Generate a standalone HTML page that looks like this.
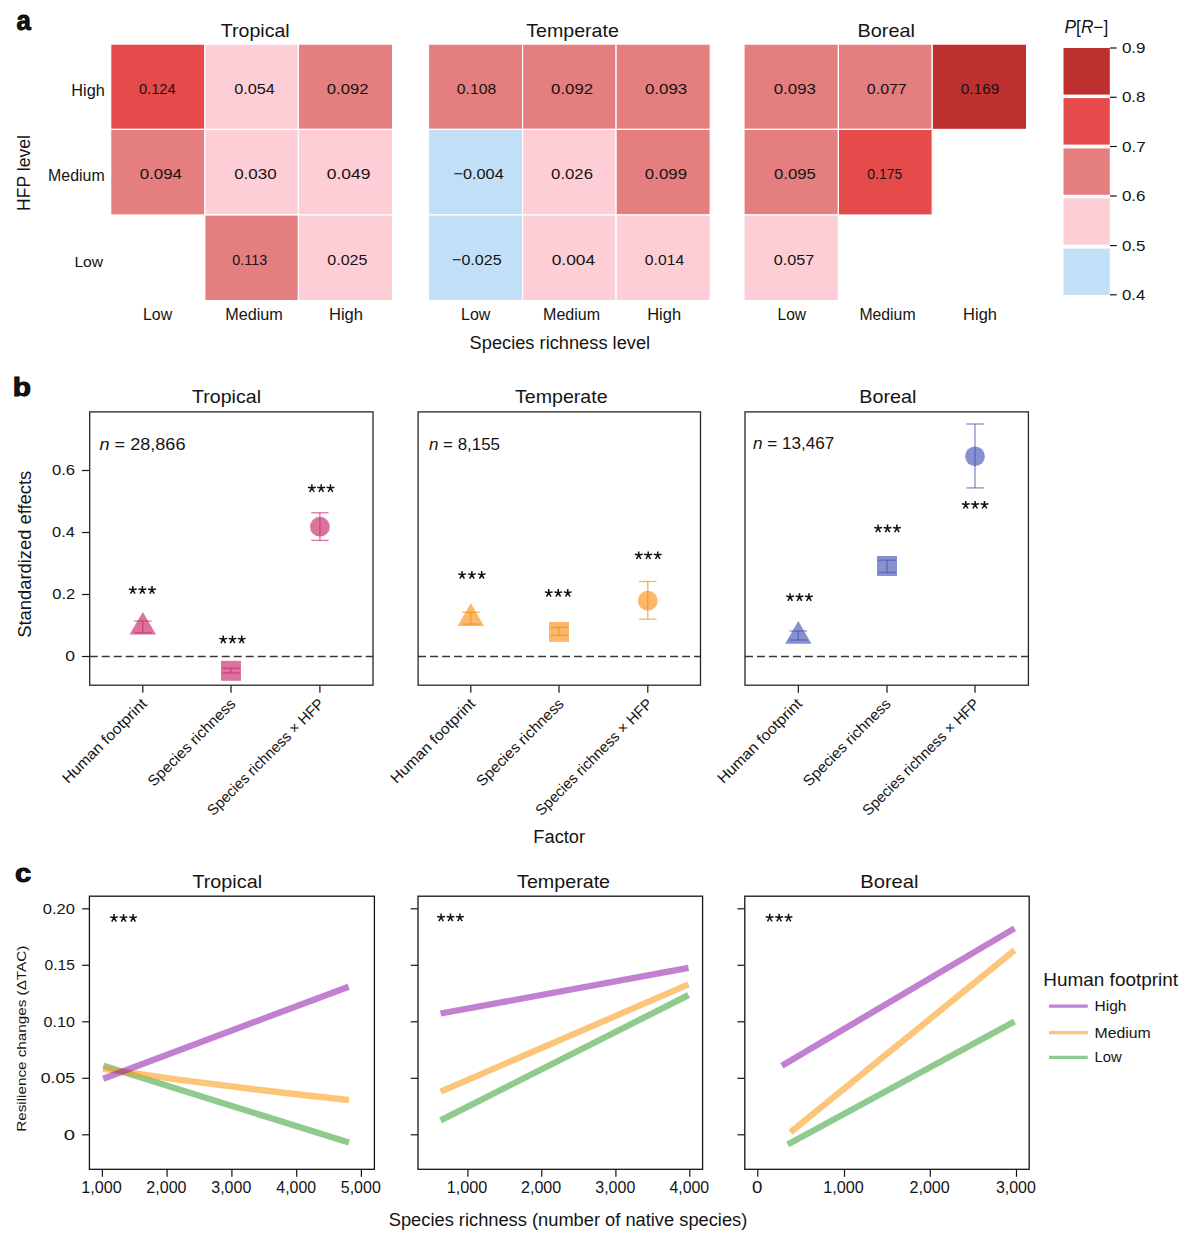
<!DOCTYPE html>
<html><head><meta charset="utf-8"><style>
html,body{margin:0;padding:0;background:#fff;width:1186px;height:1236px;overflow:hidden}
svg{display:block}
text{font-family:"Liberation Sans", sans-serif;fill:#141414}
</style></head><body>
<svg width="1186" height="1236" viewBox="0 0 1186 1236">
<text x="16.43" y="30.4" font-size="27" textLength="14.31" lengthAdjust="spacingAndGlyphs" font-weight="bold" fill="#000" stroke="#000" stroke-width="0.9">a</text>
<text x="220.86" y="36.9" font-size="18.2" textLength="68.85" lengthAdjust="spacingAndGlyphs">Tropical</text>
<rect x="110.7" y="44.1" width="94.17" height="85.3" fill="#E54B4B" stroke="#fff" stroke-width="1.2"/>
<rect x="204.87" y="44.1" width="93.57" height="85.3" fill="#FECED6" stroke="#fff" stroke-width="1.2"/>
<rect x="298.43" y="44.1" width="94.17" height="85.3" fill="#E57E7E" stroke="#fff" stroke-width="1.2"/>
<rect x="110.7" y="129.4" width="94.17" height="85.6" fill="#E57E7E" stroke="#fff" stroke-width="1.2"/>
<rect x="204.87" y="129.4" width="93.57" height="85.6" fill="#FECED6" stroke="#fff" stroke-width="1.2"/>
<rect x="298.43" y="129.4" width="94.17" height="85.6" fill="#FECED6" stroke="#fff" stroke-width="1.2"/>
<rect x="204.87" y="215" width="93.57" height="85.6" fill="#E57E7E" stroke="#fff" stroke-width="1.2"/>
<rect x="298.43" y="215" width="94.17" height="85.6" fill="#FECED6" stroke="#fff" stroke-width="1.2"/>
<text x="138.91" y="94" font-size="15.1" textLength="36.79" lengthAdjust="spacingAndGlyphs">0.124</text>
<text x="234.15" y="94" font-size="15.1" textLength="40.7" lengthAdjust="spacingAndGlyphs">0.054</text>
<text x="326.78" y="94" font-size="15.1" textLength="41.8" lengthAdjust="spacingAndGlyphs">0.092</text>
<text x="139.77" y="178.9" font-size="15.1" textLength="42.24" lengthAdjust="spacingAndGlyphs">0.094</text>
<text x="234.17" y="178.9" font-size="15.1" textLength="42.41" lengthAdjust="spacingAndGlyphs">0.030</text>
<text x="326.8" y="178.9" font-size="15.1" textLength="43.68" lengthAdjust="spacingAndGlyphs">0.049</text>
<text x="232.28" y="264.9" font-size="15.1" textLength="34.9" lengthAdjust="spacingAndGlyphs">0.113</text>
<text x="327.31" y="264.9" font-size="15.1" textLength="40.19" lengthAdjust="spacingAndGlyphs">0.025</text>
<text x="142.99" y="320.1" font-size="15.6" textLength="29.16" lengthAdjust="spacingAndGlyphs">Low</text>
<text x="225.16" y="320.1" font-size="15.6" textLength="57.72" lengthAdjust="spacingAndGlyphs">Medium</text>
<text x="328.94" y="320.1" font-size="15.6" textLength="34.03" lengthAdjust="spacingAndGlyphs">High</text>
<text x="526.26" y="36.9" font-size="18.2" textLength="92.62" lengthAdjust="spacingAndGlyphs">Temperate</text>
<rect x="428.5" y="44.1" width="94.1" height="85.3" fill="#E57E7E" stroke="#fff" stroke-width="1.2"/>
<rect x="522.6" y="44.1" width="93.5" height="85.3" fill="#E57E7E" stroke="#fff" stroke-width="1.2"/>
<rect x="616.1" y="44.1" width="94.1" height="85.3" fill="#E57E7E" stroke="#fff" stroke-width="1.2"/>
<rect x="428.5" y="129.4" width="94.1" height="85.6" fill="#C1E0F8" stroke="#fff" stroke-width="1.2"/>
<rect x="522.6" y="129.4" width="93.5" height="85.6" fill="#FECED6" stroke="#fff" stroke-width="1.2"/>
<rect x="616.1" y="129.4" width="94.1" height="85.6" fill="#E57E7E" stroke="#fff" stroke-width="1.2"/>
<rect x="428.5" y="215" width="94.1" height="85.6" fill="#C1E0F8" stroke="#fff" stroke-width="1.2"/>
<rect x="522.6" y="215" width="93.5" height="85.6" fill="#FECED6" stroke="#fff" stroke-width="1.2"/>
<rect x="616.1" y="215" width="94.1" height="85.6" fill="#FECED6" stroke="#fff" stroke-width="1.2"/>
<text x="456.87" y="94" font-size="15.1" textLength="39.3" lengthAdjust="spacingAndGlyphs">0.108</text>
<text x="551.08" y="94" font-size="15.1" textLength="42.01" lengthAdjust="spacingAndGlyphs">0.092</text>
<text x="644.92" y="94" font-size="15.1" textLength="42.4" lengthAdjust="spacingAndGlyphs">0.093</text>
<text x="453.54" y="178.9" font-size="15.1" textLength="50.18" lengthAdjust="spacingAndGlyphs">−0.004</text>
<text x="551.08" y="178.9" font-size="15.1" textLength="41.88" lengthAdjust="spacingAndGlyphs">0.026</text>
<text x="644.88" y="178.9" font-size="15.1" textLength="42.13" lengthAdjust="spacingAndGlyphs">0.099</text>
<text x="452.1" y="264.9" font-size="15.1" textLength="49.47" lengthAdjust="spacingAndGlyphs">−0.025</text>
<text x="551.71" y="264.9" font-size="15.1" textLength="43.37" lengthAdjust="spacingAndGlyphs">0.004</text>
<text x="644.87" y="264.9" font-size="15.1" textLength="39.26" lengthAdjust="spacingAndGlyphs">0.014</text>
<text x="461.08" y="320.1" font-size="15.6" textLength="29.27" lengthAdjust="spacingAndGlyphs">Low</text>
<text x="543.08" y="320.1" font-size="15.6" textLength="56.99" lengthAdjust="spacingAndGlyphs">Medium</text>
<text x="647.24" y="320.1" font-size="15.6" textLength="33.81" lengthAdjust="spacingAndGlyphs">High</text>
<text x="857.56" y="36.9" font-size="18.2" textLength="57.5" lengthAdjust="spacingAndGlyphs">Boreal</text>
<rect x="744" y="44.1" width="94.4" height="85.3" fill="#E57E7E" stroke="#fff" stroke-width="1.2"/>
<rect x="838.4" y="44.1" width="93.8" height="85.3" fill="#E57E7E" stroke="#fff" stroke-width="1.2"/>
<rect x="932.2" y="44.1" width="94.4" height="85.3" fill="#BE3030" stroke="#fff" stroke-width="1.2"/>
<rect x="744" y="129.4" width="94.4" height="85.6" fill="#E57E7E" stroke="#fff" stroke-width="1.2"/>
<rect x="838.4" y="129.4" width="93.8" height="85.6" fill="#E54B4B" stroke="#fff" stroke-width="1.2"/>
<rect x="744" y="215" width="94.4" height="85.6" fill="#FECED6" stroke="#fff" stroke-width="1.2"/>
<text x="773.67" y="94" font-size="15.1" textLength="42.29" lengthAdjust="spacingAndGlyphs">0.093</text>
<text x="866.86" y="94" font-size="15.1" textLength="39.83" lengthAdjust="spacingAndGlyphs">0.077</text>
<text x="960.73" y="94" font-size="15.1" textLength="38.61" lengthAdjust="spacingAndGlyphs">0.169</text>
<text x="774.08" y="178.9" font-size="15.1" textLength="41.84" lengthAdjust="spacingAndGlyphs">0.095</text>
<text x="867.34" y="178.9" font-size="15.1" textLength="34.92" lengthAdjust="spacingAndGlyphs">0.175</text>
<text x="773.8" y="264.9" font-size="15.1" textLength="40.56" lengthAdjust="spacingAndGlyphs">0.057</text>
<text x="777.52" y="320.1" font-size="15.6" textLength="28.54" lengthAdjust="spacingAndGlyphs">Low</text>
<text x="859.4" y="320.1" font-size="15.6" textLength="56.16" lengthAdjust="spacingAndGlyphs">Medium</text>
<text x="963.14" y="320.1" font-size="15.6" textLength="33.92" lengthAdjust="spacingAndGlyphs">High</text>
<text x="71.26" y="96.1" font-size="16.2" textLength="33.49" lengthAdjust="spacingAndGlyphs">High</text>
<text x="48.09" y="181.2" font-size="15.6" textLength="56.57" lengthAdjust="spacingAndGlyphs">Medium</text>
<text x="74.41" y="267" font-size="15.2" textLength="28.75" lengthAdjust="spacingAndGlyphs">Low</text>
<text x="-210.95" y="30.4" font-size="17.6" textLength="75.92" lengthAdjust="spacingAndGlyphs" transform="rotate(-90)">HFP level</text>
<text x="469.58" y="348.8" font-size="18" textLength="180.53" lengthAdjust="spacingAndGlyphs">Species richness level</text>
<rect x="1063.5" y="48" width="46.3" height="46.6" fill="#BE3030"/>
<rect x="1063.5" y="98.1" width="46.3" height="46.5" fill="#E54B4B"/>
<rect x="1063.5" y="148.4" width="46.3" height="46.4" fill="#E57E7E"/>
<rect x="1063.5" y="198.4" width="46.3" height="46.3" fill="#FECED6"/>
<rect x="1063.5" y="248.6" width="46.3" height="46.4" fill="#C1E0F8"/>
<line x1="1110" y1="48" x2="1116.7" y2="48" stroke="#141414" stroke-width="1.2"/>
<text x="1121.92" y="53.1" font-size="15.2" textLength="23.65" lengthAdjust="spacingAndGlyphs">0.9</text>
<line x1="1110" y1="97.3" x2="1116.7" y2="97.3" stroke="#141414" stroke-width="1.2"/>
<text x="1121.92" y="102.4" font-size="15.2" textLength="23.6" lengthAdjust="spacingAndGlyphs">0.8</text>
<line x1="1110" y1="146.5" x2="1116.7" y2="146.5" stroke="#141414" stroke-width="1.2"/>
<text x="1121.92" y="151.6" font-size="15.2" textLength="23.74" lengthAdjust="spacingAndGlyphs">0.7</text>
<line x1="1110" y1="196" x2="1116.7" y2="196" stroke="#141414" stroke-width="1.2"/>
<text x="1121.92" y="201.1" font-size="15.2" textLength="23.6" lengthAdjust="spacingAndGlyphs">0.6</text>
<line x1="1110" y1="245.6" x2="1116.7" y2="245.6" stroke="#141414" stroke-width="1.2"/>
<text x="1121.92" y="250.7" font-size="15.2" textLength="23.56" lengthAdjust="spacingAndGlyphs">0.5</text>
<line x1="1110" y1="294.8" x2="1116.7" y2="294.8" stroke="#141414" stroke-width="1.2"/>
<text x="1121.93" y="299.9" font-size="15.2" textLength="23.34" lengthAdjust="spacingAndGlyphs">0.4</text>
<text x="1064.58" y="32.7" font-size="17.6" textLength="43.66" lengthAdjust="spacingAndGlyphs"><tspan font-style="italic">P</tspan>[<tspan font-style="italic">R</tspan>−]</text>
<text x="12.76" y="395.9" font-size="25.5" textLength="18.27" lengthAdjust="spacingAndGlyphs" font-weight="bold" fill="#000" stroke="#000" stroke-width="0.9">b</text>
<text x="192.06" y="402.8" font-size="18.2" textLength="68.96" lengthAdjust="spacingAndGlyphs">Tropical</text>
<line x1="89.7" y1="656.5" x2="373" y2="656.5" stroke="#383838" stroke-width="1.3" stroke-dasharray="8,4"/>
<polygon points="129.6,634.6 156,634.6 142.8,612" fill="#CC3774" fill-opacity="0.7"/>
<line x1="142.8" y1="621.1" x2="142.8" y2="632.9" stroke="#C42A6E" stroke-width="1.3" stroke-opacity="0.65"/>
<line x1="134.1" y1="621.1" x2="151.5" y2="621.1" stroke="#C42A6E" stroke-width="1.3" stroke-opacity="0.65"/>
<line x1="134.1" y1="632.9" x2="151.5" y2="632.9" stroke="#C42A6E" stroke-width="1.3" stroke-opacity="0.65"/>
<line x1="142.8" y1="685.2" x2="142.8" y2="692.7" stroke="#141414" stroke-width="1.2"/>
<path d="M132.8 589.8L132.8 586.1M132.8 589.8L136.71 588.97M132.8 589.8L128.89 588.97M132.8 589.8L135.05 593.7M132.8 589.8L130.55 593.7M142.4 589.8L142.4 586.1M142.4 589.8L146.31 588.97M142.4 589.8L138.49 588.97M142.4 589.8L144.65 593.7M142.4 589.8L140.15 593.7M152 589.8L152 586.1M152 589.8L155.91 588.97M152 589.8L148.09 588.97M152 589.8L154.25 593.7M152 589.8L149.75 593.7" stroke="#111" stroke-width="1.5" fill="none"/>
<rect x="221" y="660.8" width="20" height="20" fill="#CC3774" fill-opacity="0.7"/>
<line x1="231" y1="668.3" x2="231" y2="673" stroke="#C42A6E" stroke-width="1.3" stroke-opacity="0.65"/>
<line x1="222.3" y1="668.3" x2="239.7" y2="668.3" stroke="#C42A6E" stroke-width="1.3" stroke-opacity="0.65"/>
<line x1="222.3" y1="673" x2="239.7" y2="673" stroke="#C42A6E" stroke-width="1.3" stroke-opacity="0.65"/>
<line x1="231" y1="685.2" x2="231" y2="692.7" stroke="#141414" stroke-width="1.2"/>
<path d="M223.2 639.2L223.2 635.5M223.2 639.2L227.11 638.37M223.2 639.2L219.29 638.37M223.2 639.2L225.45 643.1M223.2 639.2L220.95 643.1M232.45 639.2L232.45 635.5M232.45 639.2L236.36 638.37M232.45 639.2L228.54 638.37M232.45 639.2L234.7 643.1M232.45 639.2L230.2 643.1M241.7 639.2L241.7 635.5M241.7 639.2L245.61 638.37M241.7 639.2L237.79 638.37M241.7 639.2L243.95 643.1M241.7 639.2L239.45 643.1" stroke="#111" stroke-width="1.5" fill="none"/>
<circle cx="319.9" cy="526.7" r="9.9" fill="#CC3774" fill-opacity="0.7"/>
<line x1="319.9" y1="512.8" x2="319.9" y2="540.4" stroke="#C42A6E" stroke-width="1.3" stroke-opacity="0.65"/>
<line x1="311.2" y1="512.8" x2="328.6" y2="512.8" stroke="#C42A6E" stroke-width="1.3" stroke-opacity="0.65"/>
<line x1="311.2" y1="540.4" x2="328.6" y2="540.4" stroke="#C42A6E" stroke-width="1.3" stroke-opacity="0.65"/>
<line x1="319.9" y1="685.2" x2="319.9" y2="692.7" stroke="#141414" stroke-width="1.2"/>
<path d="M311.9 488L311.9 484.3M311.9 488L315.81 487.17M311.9 488L307.99 487.17M311.9 488L314.15 491.9M311.9 488L309.65 491.9M321.2 488L321.2 484.3M321.2 488L325.11 487.17M321.2 488L317.29 487.17M321.2 488L323.45 491.9M321.2 488L318.95 491.9M330.5 488L330.5 484.3M330.5 488L334.41 487.17M330.5 488L326.59 487.17M330.5 488L332.75 491.9M330.5 488L328.25 491.9" stroke="#111" stroke-width="1.5" fill="none"/>
<rect x="89.7" y="411.9" width="283.3" height="273.3" fill="none" stroke="#262626" stroke-width="1.3"/>
<text x="99.48" y="449.8" font-size="17.3" textLength="86.03" lengthAdjust="spacingAndGlyphs"><tspan font-style="italic">n</tspan> = 28,866</text>
<text x="0" y="0" font-size="15" text-anchor="end" textLength="112.59" lengthAdjust="spacingAndGlyphs" transform="translate(147.8,704.7) rotate(-45)">Human footprint</text>
<text x="0" y="0" font-size="15" text-anchor="end" textLength="116.79" lengthAdjust="spacingAndGlyphs" transform="translate(236.4,704.7) rotate(-45)">Species richness</text>
<text x="0" y="0" font-size="15" text-anchor="end" textLength="158.08" lengthAdjust="spacingAndGlyphs" transform="translate(325,704.7) rotate(-45)">Species richness × HFP</text>
<text x="515.06" y="402.8" font-size="18.2" textLength="92.52" lengthAdjust="spacingAndGlyphs">Temperate</text>
<line x1="418.1" y1="656.5" x2="700.5" y2="656.5" stroke="#383838" stroke-width="1.3" stroke-dasharray="8,4"/>
<polygon points="457.6,625.9 484,625.9 470.8,603.3" fill="#F99A2A" fill-opacity="0.7"/>
<line x1="470.8" y1="612.3" x2="470.8" y2="624.1" stroke="#F08A10" stroke-width="1.3" stroke-opacity="0.65"/>
<line x1="462.1" y1="612.3" x2="479.5" y2="612.3" stroke="#F08A10" stroke-width="1.3" stroke-opacity="0.65"/>
<line x1="462.1" y1="624.1" x2="479.5" y2="624.1" stroke="#F08A10" stroke-width="1.3" stroke-opacity="0.65"/>
<line x1="470.8" y1="685.2" x2="470.8" y2="692.7" stroke="#141414" stroke-width="1.2"/>
<path d="M462.1 574.7L462.1 571M462.1 574.7L466.01 573.87M462.1 574.7L458.19 573.87M462.1 574.7L464.35 578.6M462.1 574.7L459.85 578.6M471.9 574.7L471.9 571M471.9 574.7L475.81 573.87M471.9 574.7L467.99 573.87M471.9 574.7L474.15 578.6M471.9 574.7L469.65 578.6M481.7 574.7L481.7 571M481.7 574.7L485.61 573.87M481.7 574.7L477.79 573.87M481.7 574.7L483.95 578.6M481.7 574.7L479.45 578.6" stroke="#111" stroke-width="1.5" fill="none"/>
<rect x="549" y="621.9" width="20" height="20" fill="#F99A2A" fill-opacity="0.7"/>
<line x1="559" y1="627.4" x2="559" y2="635.4" stroke="#F08A10" stroke-width="1.3" stroke-opacity="0.65"/>
<line x1="550.3" y1="627.4" x2="567.7" y2="627.4" stroke="#F08A10" stroke-width="1.3" stroke-opacity="0.65"/>
<line x1="550.3" y1="635.4" x2="567.7" y2="635.4" stroke="#F08A10" stroke-width="1.3" stroke-opacity="0.65"/>
<line x1="559" y1="685.2" x2="559" y2="692.7" stroke="#141414" stroke-width="1.2"/>
<path d="M548.7 592.7L548.7 589M548.7 592.7L552.61 591.87M548.7 592.7L544.79 591.87M548.7 592.7L550.95 596.6M548.7 592.7L546.45 596.6M558.25 592.7L558.25 589M558.25 592.7L562.16 591.87M558.25 592.7L554.34 591.87M558.25 592.7L560.5 596.6M558.25 592.7L556 596.6M567.8 592.7L567.8 589M567.8 592.7L571.71 591.87M567.8 592.7L563.89 591.87M567.8 592.7L570.05 596.6M567.8 592.7L565.55 596.6" stroke="#111" stroke-width="1.5" fill="none"/>
<circle cx="647.8" cy="600.7" r="9.9" fill="#F99A2A" fill-opacity="0.7"/>
<line x1="647.8" y1="581.5" x2="647.8" y2="619.2" stroke="#F08A10" stroke-width="1.3" stroke-opacity="0.65"/>
<line x1="639.1" y1="581.5" x2="656.5" y2="581.5" stroke="#F08A10" stroke-width="1.3" stroke-opacity="0.65"/>
<line x1="639.1" y1="619.2" x2="656.5" y2="619.2" stroke="#F08A10" stroke-width="1.3" stroke-opacity="0.65"/>
<line x1="647.8" y1="685.2" x2="647.8" y2="692.7" stroke="#141414" stroke-width="1.2"/>
<path d="M638.7 555.1L638.7 551.4M638.7 555.1L642.61 554.27M638.7 555.1L634.79 554.27M638.7 555.1L640.95 559M638.7 555.1L636.45 559M648.2 555.1L648.2 551.4M648.2 555.1L652.11 554.27M648.2 555.1L644.29 554.27M648.2 555.1L650.45 559M648.2 555.1L645.95 559M657.7 555.1L657.7 551.4M657.7 555.1L661.61 554.27M657.7 555.1L653.79 554.27M657.7 555.1L659.95 559M657.7 555.1L655.45 559" stroke="#111" stroke-width="1.5" fill="none"/>
<rect x="418.1" y="411.9" width="282.4" height="273.3" fill="none" stroke="#262626" stroke-width="1.3"/>
<text x="428.96" y="450.3" font-size="17.3" textLength="71.03" lengthAdjust="spacingAndGlyphs"><tspan font-style="italic">n</tspan> = 8,155</text>
<text x="0" y="0" font-size="15" text-anchor="end" textLength="112.59" lengthAdjust="spacingAndGlyphs" transform="translate(476.2,704.7) rotate(-45)">Human footprint</text>
<text x="0" y="0" font-size="15" text-anchor="end" textLength="116.79" lengthAdjust="spacingAndGlyphs" transform="translate(564.8,704.7) rotate(-45)">Species richness</text>
<text x="0" y="0" font-size="15" text-anchor="end" textLength="158.08" lengthAdjust="spacingAndGlyphs" transform="translate(653.4,704.7) rotate(-45)">Species richness × HFP</text>
<text x="859.27" y="402.8" font-size="18.2" textLength="57.08" lengthAdjust="spacingAndGlyphs">Boreal</text>
<line x1="745" y1="656.5" x2="1028.4" y2="656.5" stroke="#383838" stroke-width="1.3" stroke-dasharray="8,4"/>
<polygon points="785.1,643.7 811.5,643.7 798.3,621.1" fill="#5562BA" fill-opacity="0.7"/>
<line x1="798.3" y1="631" x2="798.3" y2="640" stroke="#4350B0" stroke-width="1.3" stroke-opacity="0.65"/>
<line x1="789.6" y1="631" x2="807" y2="631" stroke="#4350B0" stroke-width="1.3" stroke-opacity="0.65"/>
<line x1="789.6" y1="640" x2="807" y2="640" stroke="#4350B0" stroke-width="1.3" stroke-opacity="0.65"/>
<line x1="798.3" y1="685.2" x2="798.3" y2="692.7" stroke="#141414" stroke-width="1.2"/>
<path d="M790.1 596.9L790.1 593.2M790.1 596.9L794.01 596.07M790.1 596.9L786.19 596.07M790.1 596.9L792.35 600.8M790.1 596.9L787.85 600.8M799.5 596.9L799.5 593.2M799.5 596.9L803.41 596.07M799.5 596.9L795.59 596.07M799.5 596.9L801.75 600.8M799.5 596.9L797.25 600.8M808.9 596.9L808.9 593.2M808.9 596.9L812.81 596.07M808.9 596.9L804.99 596.07M808.9 596.9L811.15 600.8M808.9 596.9L806.65 600.8" stroke="#111" stroke-width="1.5" fill="none"/>
<rect x="877" y="556" width="20" height="20" fill="#5562BA" fill-opacity="0.7"/>
<line x1="887" y1="560.2" x2="887" y2="572.5" stroke="#4350B0" stroke-width="1.3" stroke-opacity="0.65"/>
<line x1="878.3" y1="560.2" x2="895.7" y2="560.2" stroke="#4350B0" stroke-width="1.3" stroke-opacity="0.65"/>
<line x1="878.3" y1="572.5" x2="895.7" y2="572.5" stroke="#4350B0" stroke-width="1.3" stroke-opacity="0.65"/>
<line x1="887" y1="685.2" x2="887" y2="692.7" stroke="#141414" stroke-width="1.2"/>
<path d="M878.1 528.3L878.1 524.6M878.1 528.3L882.01 527.47M878.1 528.3L874.19 527.47M878.1 528.3L880.35 532.2M878.1 528.3L875.85 532.2M887.5 528.3L887.5 524.6M887.5 528.3L891.41 527.47M887.5 528.3L883.59 527.47M887.5 528.3L889.75 532.2M887.5 528.3L885.25 532.2M896.9 528.3L896.9 524.6M896.9 528.3L900.81 527.47M896.9 528.3L892.99 527.47M896.9 528.3L899.15 532.2M896.9 528.3L894.65 532.2" stroke="#111" stroke-width="1.5" fill="none"/>
<circle cx="975" cy="456.3" r="9.9" fill="#5562BA" fill-opacity="0.7"/>
<line x1="975" y1="424" x2="975" y2="487.9" stroke="#4350B0" stroke-width="1.3" stroke-opacity="0.65"/>
<line x1="966.3" y1="424" x2="983.7" y2="424" stroke="#4350B0" stroke-width="1.3" stroke-opacity="0.65"/>
<line x1="966.3" y1="487.9" x2="983.7" y2="487.9" stroke="#4350B0" stroke-width="1.3" stroke-opacity="0.65"/>
<line x1="975" y1="685.2" x2="975" y2="692.7" stroke="#141414" stroke-width="1.2"/>
<path d="M965.7 504.6L965.7 500.9M965.7 504.6L969.61 503.77M965.7 504.6L961.79 503.77M965.7 504.6L967.95 508.5M965.7 504.6L963.45 508.5M975.1 504.6L975.1 500.9M975.1 504.6L979.01 503.77M975.1 504.6L971.19 503.77M975.1 504.6L977.35 508.5M975.1 504.6L972.85 508.5M984.5 504.6L984.5 500.9M984.5 504.6L988.41 503.77M984.5 504.6L980.59 503.77M984.5 504.6L986.75 508.5M984.5 504.6L982.25 508.5" stroke="#111" stroke-width="1.5" fill="none"/>
<rect x="745" y="411.9" width="283.4" height="273.3" fill="none" stroke="#262626" stroke-width="1.3"/>
<text x="752.94" y="448.8" font-size="17.3" textLength="81.45" lengthAdjust="spacingAndGlyphs"><tspan font-style="italic">n</tspan> = 13,467</text>
<text x="0" y="0" font-size="15" text-anchor="end" textLength="112.59" lengthAdjust="spacingAndGlyphs" transform="translate(803.1,704.7) rotate(-45)">Human footprint</text>
<text x="0" y="0" font-size="15" text-anchor="end" textLength="116.79" lengthAdjust="spacingAndGlyphs" transform="translate(891.7,704.7) rotate(-45)">Species richness</text>
<text x="0" y="0" font-size="15" text-anchor="end" textLength="158.08" lengthAdjust="spacingAndGlyphs" transform="translate(980.3,704.7) rotate(-45)">Species richness × HFP</text>
<line x1="82" y1="470.5" x2="89.7" y2="470.5" stroke="#141414" stroke-width="1.2"/>
<text x="52.04" y="474.9" font-size="14.3" textLength="23.07" lengthAdjust="spacingAndGlyphs">0.6</text>
<line x1="82" y1="532.5" x2="89.7" y2="532.5" stroke="#141414" stroke-width="1.2"/>
<text x="52.04" y="536.9" font-size="14.3" textLength="22.81" lengthAdjust="spacingAndGlyphs">0.4</text>
<line x1="82" y1="594.5" x2="89.7" y2="594.5" stroke="#141414" stroke-width="1.2"/>
<text x="52.24" y="598.9" font-size="14.3" textLength="22.99" lengthAdjust="spacingAndGlyphs">0.2</text>
<line x1="82" y1="656.5" x2="89.7" y2="656.5" stroke="#141414" stroke-width="1.2"/>
<text x="65.3" y="660.9" font-size="14.3" textLength="9.78" lengthAdjust="spacingAndGlyphs">0</text>
<text x="-637.73" y="31" font-size="17.6" textLength="166.95" lengthAdjust="spacingAndGlyphs" transform="rotate(-90)">Standardized effects</text>
<text x="533.39" y="842.5" font-size="18" textLength="51.71" lengthAdjust="spacingAndGlyphs">Factor</text>
<text x="15.03" y="882.3" font-size="26.5" textLength="16.2" lengthAdjust="spacingAndGlyphs" font-weight="bold" fill="#000" stroke="#000" stroke-width="0.9">c</text>
<text x="192.46" y="887.7" font-size="18.2" textLength="69.57" lengthAdjust="spacingAndGlyphs">Tropical</text>
<line x1="103.4" y1="1065.7" x2="349" y2="1142.6" stroke="#44A844" stroke-width="6.3" stroke-opacity="0.6"/>
<path d="M103 1068.8Q226 1087.2 349 1100" stroke="#FA9F22" stroke-width="6.3" stroke-opacity="0.6" fill="none"/>
<line x1="103.2" y1="1078.7" x2="348.6" y2="986.7" stroke="#9A2BB2" stroke-width="6.3" stroke-opacity="0.6"/>
<rect x="89.4" y="896.2" width="285" height="273.1" fill="none" stroke="#151515" stroke-width="1.3"/>
<line x1="102.4" y1="1169.3" x2="102.4" y2="1176.8" stroke="#141414" stroke-width="1.2"/>
<text x="81.18" y="1192.6" font-size="15.6" textLength="40.63" lengthAdjust="spacingAndGlyphs">1,000</text>
<line x1="167.1" y1="1169.3" x2="167.1" y2="1176.8" stroke="#141414" stroke-width="1.2"/>
<text x="146.3" y="1192.6" font-size="15.6" textLength="40.21" lengthAdjust="spacingAndGlyphs">2,000</text>
<line x1="231.9" y1="1169.3" x2="231.9" y2="1176.8" stroke="#141414" stroke-width="1.2"/>
<text x="211.3" y="1192.6" font-size="15.6" textLength="40" lengthAdjust="spacingAndGlyphs">3,000</text>
<line x1="296.7" y1="1169.3" x2="296.7" y2="1176.8" stroke="#141414" stroke-width="1.2"/>
<text x="276.34" y="1192.6" font-size="15.6" textLength="39.75" lengthAdjust="spacingAndGlyphs">4,000</text>
<line x1="361.4" y1="1169.3" x2="361.4" y2="1176.8" stroke="#141414" stroke-width="1.2"/>
<text x="340.76" y="1192.6" font-size="15.6" textLength="40.04" lengthAdjust="spacingAndGlyphs">5,000</text>
<line x1="82.1" y1="908.8" x2="89.4" y2="908.8" stroke="#141414" stroke-width="1.2"/>
<line x1="82.1" y1="965.3" x2="89.4" y2="965.3" stroke="#141414" stroke-width="1.2"/>
<line x1="82.1" y1="1021.8" x2="89.4" y2="1021.8" stroke="#141414" stroke-width="1.2"/>
<line x1="82.1" y1="1078.3" x2="89.4" y2="1078.3" stroke="#141414" stroke-width="1.2"/>
<line x1="82.1" y1="1134.8" x2="89.4" y2="1134.8" stroke="#141414" stroke-width="1.2"/>
<path d="M114 917.7L114 914M114 917.7L117.91 916.87M114 917.7L110.09 916.87M114 917.7L116.25 921.6M114 917.7L111.75 921.6M123.55 917.7L123.55 914M123.55 917.7L127.46 916.87M123.55 917.7L119.64 916.87M123.55 917.7L125.8 921.6M123.55 917.7L121.3 921.6M133.1 917.7L133.1 914M133.1 917.7L137.01 916.87M133.1 917.7L129.19 916.87M133.1 917.7L135.35 921.6M133.1 917.7L130.85 921.6" stroke="#111" stroke-width="1.5" fill="none"/>
<text x="517.06" y="887.7" font-size="18.2" textLength="93.02" lengthAdjust="spacingAndGlyphs">Temperate</text>
<line x1="440.6" y1="1120.4" x2="688.5" y2="995.1" stroke="#44A844" stroke-width="6.3" stroke-opacity="0.6"/>
<line x1="440.6" y1="1091.7" x2="688.5" y2="984.4" stroke="#FA9F22" stroke-width="6.3" stroke-opacity="0.6"/>
<line x1="440.6" y1="1013.5" x2="688.5" y2="967.9" stroke="#9A2BB2" stroke-width="6.3" stroke-opacity="0.6"/>
<rect x="418" y="896.2" width="284.6" height="273.1" fill="none" stroke="#151515" stroke-width="1.3"/>
<line x1="467.9" y1="1169.3" x2="467.9" y2="1176.8" stroke="#141414" stroke-width="1.2"/>
<text x="446.68" y="1192.6" font-size="15.6" textLength="40.63" lengthAdjust="spacingAndGlyphs">1,000</text>
<line x1="541.8" y1="1169.3" x2="541.8" y2="1176.8" stroke="#141414" stroke-width="1.2"/>
<text x="521" y="1192.6" font-size="15.6" textLength="40.21" lengthAdjust="spacingAndGlyphs">2,000</text>
<line x1="615.9" y1="1169.3" x2="615.9" y2="1176.8" stroke="#141414" stroke-width="1.2"/>
<text x="595.3" y="1192.6" font-size="15.6" textLength="40" lengthAdjust="spacingAndGlyphs">3,000</text>
<line x1="689.8" y1="1169.3" x2="689.8" y2="1176.8" stroke="#141414" stroke-width="1.2"/>
<text x="669.44" y="1192.6" font-size="15.6" textLength="39.75" lengthAdjust="spacingAndGlyphs">4,000</text>
<line x1="410.7" y1="908.8" x2="418" y2="908.8" stroke="#141414" stroke-width="1.2"/>
<line x1="410.7" y1="965.3" x2="418" y2="965.3" stroke="#141414" stroke-width="1.2"/>
<line x1="410.7" y1="1021.8" x2="418" y2="1021.8" stroke="#141414" stroke-width="1.2"/>
<line x1="410.7" y1="1078.3" x2="418" y2="1078.3" stroke="#141414" stroke-width="1.2"/>
<line x1="410.7" y1="1134.8" x2="418" y2="1134.8" stroke="#141414" stroke-width="1.2"/>
<path d="M441.1 917.3L441.1 913.6M441.1 917.3L445.01 916.47M441.1 917.3L437.19 916.47M441.1 917.3L443.35 921.2M441.1 917.3L438.85 921.2M450.5 917.3L450.5 913.6M450.5 917.3L454.41 916.47M450.5 917.3L446.59 916.47M450.5 917.3L452.75 921.2M450.5 917.3L448.25 921.2M459.9 917.3L459.9 913.6M459.9 917.3L463.81 916.47M459.9 917.3L455.99 916.47M459.9 917.3L462.15 921.2M459.9 917.3L457.65 921.2" stroke="#111" stroke-width="1.5" fill="none"/>
<text x="860.23" y="887.7" font-size="18.2" textLength="58.34" lengthAdjust="spacingAndGlyphs">Boreal</text>
<line x1="787.7" y1="1144.5" x2="1014.5" y2="1021.5" stroke="#44A844" stroke-width="6.3" stroke-opacity="0.6"/>
<line x1="790.4" y1="1132.2" x2="1014.5" y2="950.3" stroke="#FA9F22" stroke-width="6.3" stroke-opacity="0.6"/>
<line x1="781.9" y1="1065.7" x2="1014.5" y2="928.4" stroke="#9A2BB2" stroke-width="6.3" stroke-opacity="0.6"/>
<rect x="744.8" y="896.2" width="284.4" height="273.1" fill="none" stroke="#151515" stroke-width="1.3"/>
<line x1="757.8" y1="1169.3" x2="757.8" y2="1176.8" stroke="#141414" stroke-width="1.2"/>
<text x="752" y="1192.6" font-size="15.6" textLength="10.37" lengthAdjust="spacingAndGlyphs">0</text>
<line x1="844.5" y1="1169.3" x2="844.5" y2="1176.8" stroke="#141414" stroke-width="1.2"/>
<text x="823.28" y="1192.6" font-size="15.6" textLength="40.63" lengthAdjust="spacingAndGlyphs">1,000</text>
<line x1="930.3" y1="1169.3" x2="930.3" y2="1176.8" stroke="#141414" stroke-width="1.2"/>
<text x="909.5" y="1192.6" font-size="15.6" textLength="40.21" lengthAdjust="spacingAndGlyphs">2,000</text>
<line x1="1016.5" y1="1169.3" x2="1016.5" y2="1176.8" stroke="#141414" stroke-width="1.2"/>
<text x="995.9" y="1192.6" font-size="15.6" textLength="40" lengthAdjust="spacingAndGlyphs">3,000</text>
<line x1="737.5" y1="908.8" x2="744.8" y2="908.8" stroke="#141414" stroke-width="1.2"/>
<line x1="737.5" y1="965.3" x2="744.8" y2="965.3" stroke="#141414" stroke-width="1.2"/>
<line x1="737.5" y1="1021.8" x2="744.8" y2="1021.8" stroke="#141414" stroke-width="1.2"/>
<line x1="737.5" y1="1078.3" x2="744.8" y2="1078.3" stroke="#141414" stroke-width="1.2"/>
<line x1="737.5" y1="1134.8" x2="744.8" y2="1134.8" stroke="#141414" stroke-width="1.2"/>
<path d="M769.7 917.5L769.7 913.8M769.7 917.5L773.61 916.67M769.7 917.5L765.79 916.67M769.7 917.5L771.95 921.4M769.7 917.5L767.45 921.4M779.1 917.5L779.1 913.8M779.1 917.5L783.01 916.67M779.1 917.5L775.19 916.67M779.1 917.5L781.35 921.4M779.1 917.5L776.85 921.4M788.5 917.5L788.5 913.8M788.5 917.5L792.41 916.67M788.5 917.5L784.59 916.67M788.5 917.5L790.75 921.4M788.5 917.5L786.25 921.4" stroke="#111" stroke-width="1.5" fill="none"/>
<text x="42.74" y="913.8" font-size="14.6" textLength="32.2" lengthAdjust="spacingAndGlyphs">0.20</text>
<text x="44.58" y="970.3" font-size="14.6" textLength="30.37" lengthAdjust="spacingAndGlyphs">0.15</text>
<text x="43.56" y="1026.8" font-size="14.6" textLength="31.37" lengthAdjust="spacingAndGlyphs">0.10</text>
<text x="40.69" y="1083.3" font-size="14.6" textLength="34.34" lengthAdjust="spacingAndGlyphs">0.05</text>
<text x="63.79" y="1139.8" font-size="14.6" textLength="11.3" lengthAdjust="spacingAndGlyphs">0</text>
<text x="-1131.86" y="26.4" font-size="13.6" textLength="186.17" lengthAdjust="spacingAndGlyphs" transform="rotate(-90)">Resilience changes (ΔTAC)</text>
<text x="388.78" y="1226.3" font-size="18" textLength="358.53" lengthAdjust="spacingAndGlyphs">Species richness (number of native species)</text>
<text x="1043.34" y="986.2" font-size="17.8" textLength="134.7" lengthAdjust="spacingAndGlyphs">Human footprint</text>
<line x1="1049" y1="1006.2" x2="1087.8" y2="1006.2" stroke="#9A2BB2" stroke-width="3.2" stroke-opacity="0.6"/>
<text x="1094.52" y="1011.4" font-size="15.4" textLength="31.98" lengthAdjust="spacingAndGlyphs">High</text>
<line x1="1049" y1="1032.7" x2="1087.8" y2="1032.7" stroke="#FA9F22" stroke-width="3.2" stroke-opacity="0.6"/>
<text x="1094.5" y="1038.2" font-size="15.4" textLength="56.26" lengthAdjust="spacingAndGlyphs">Medium</text>
<line x1="1049" y1="1057.3" x2="1087.8" y2="1057.3" stroke="#44A844" stroke-width="3.2" stroke-opacity="0.6"/>
<text x="1094.58" y="1062.2" font-size="15.4" textLength="27.18" lengthAdjust="spacingAndGlyphs">Low</text>
</svg>
</body></html>
